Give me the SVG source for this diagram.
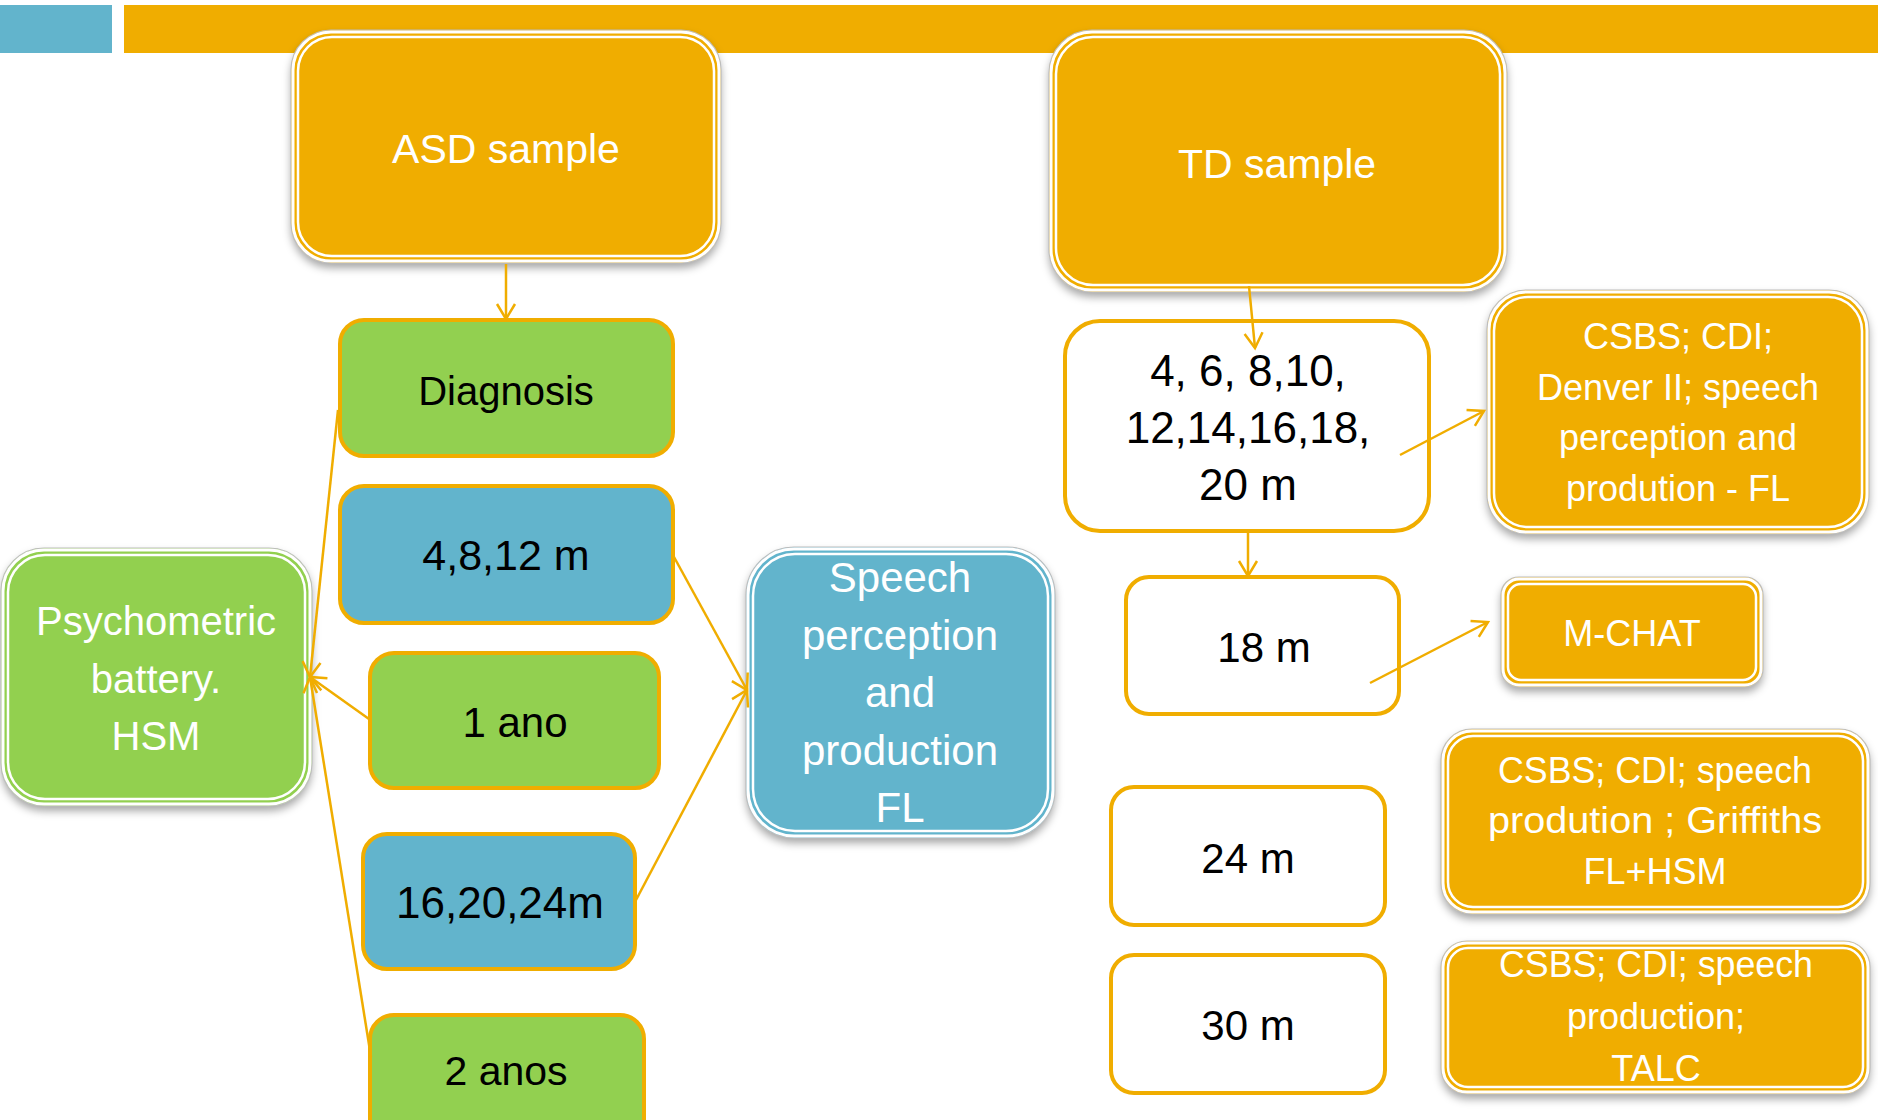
<svg xmlns="http://www.w3.org/2000/svg" width="1878" height="1120" viewBox="0 0 1878 1120">
<style>
text{font-family:"Liberation Sans",Arial,sans-serif;text-anchor:middle}
.w{fill:#fff}
.k{fill:#000}
.or{fill:#F0AD00}
.bl{fill:#62B4CC}
.gr{fill:#92D050}
.sb{stroke:#F0AD00;stroke-width:4}
.ol{fill:none;stroke:#fff;stroke-width:3}
.gy{fill:none;stroke:#bdbdbd;stroke-width:1.2}
.in{fill:none;stroke:#fff;stroke-width:2.5}
.c{fill:none;stroke:#F0AD00;stroke-width:2.5}
</style>
<defs>
<filter id="sh" x="-10%" y="-10%" width="120%" height="130%">
<feDropShadow dx="0" dy="5" stdDeviation="4" flood-color="#000" flood-opacity="0.35"/>
</filter>
<marker id="ar" markerUnits="userSpaceOnUse" markerWidth="22" markerHeight="22" refX="18" refY="11" orient="auto">
<path d="M3,2 L18,11 L3,20" fill="none" stroke="#F0AD00" stroke-width="2.5"/>
</marker>
</defs>
<rect x="0" y="5" width="112" height="48" fill="#62B4CC"/>
<rect x="124" y="5" width="1754" height="48" fill="#F0AD00"/>

<g id="asd">
<rect x="291" y="30" width="430" height="233" rx="40" class="or" filter="url(#sh)"/>
<rect x="291" y="30" width="430" height="233" rx="40" class="gy"/>
<rect x="293" y="32" width="426" height="229" rx="38" class="ol"/>
<rect x="298" y="37" width="416" height="219" rx="34" class="in"/>
<text x="506" y="163" font-size="41" class="w">ASD sample</text>
</g>
<g id="td">
<rect x="1049" y="30" width="458" height="262" rx="43" class="or" filter="url(#sh)"/>
<rect x="1049" y="30" width="458" height="262" rx="43" class="gy"/>
<rect x="1051" y="32" width="454" height="258" rx="41" class="ol"/>
<rect x="1056" y="37" width="444" height="248" rx="37" class="in"/>
<text x="1277" y="178" font-size="41" class="w">TD sample</text>
</g>
<g id="diagnosis">
<rect x="340" y="320" width="333" height="136" rx="24" class="gr sb"/>
<text x="506" y="405" font-size="40" class="k">Diagnosis</text>
</g>
<g id="m4812">
<rect x="340" y="486" width="333" height="137" rx="24" class="bl sb"/>
<text x="506" y="570" font-size="43" class="k">4,8,12 m</text>
</g>
<g id="ano1">
<rect x="370" y="653" width="289" height="135" rx="24" class="gr sb"/>
<text x="515" y="737" font-size="42" class="k">1 ano</text>
</g>
<g id="m162024">
<rect x="363" y="834" width="272" height="135" rx="24" class="bl sb"/>
<text x="500" y="918" font-size="44" class="k">16,20,24m</text>
</g>
<g id="anos2">
<rect x="370" y="1015" width="274" height="130" rx="24" class="gr sb"/>
<text x="506" y="1085" font-size="41" class="k">2 anos</text>
</g>
<g id="psych">
<rect x="1" y="548" width="311" height="258" rx="43" class="gr" filter="url(#sh)"/>
<rect x="1" y="548" width="311" height="258" rx="43" class="gy"/>
<rect x="3" y="550" width="307" height="254" rx="41" class="ol"/>
<rect x="8" y="555" width="297" height="244" rx="37" class="in"/>
<text font-size="40" class="w"><tspan x="156" y="635">Psychometric</tspan><tspan x="156" y="693">battery.</tspan><tspan x="156" y="750">HSM</tspan></text>
</g>
<g id="speech">
<rect x="746" y="547" width="309" height="291" rx="48" class="bl" filter="url(#sh)"/>
<rect x="746" y="547" width="309" height="291" rx="48" class="gy"/>
<rect x="748" y="549" width="305" height="287" rx="46" class="ol"/>
<rect x="753" y="554" width="295" height="277" rx="42" class="in"/>
<text font-size="42" class="w"><tspan x="900" y="592">Speech</tspan><tspan x="900" y="650">perception</tspan><tspan x="900" y="707">and</tspan><tspan x="900" y="765">production</tspan><tspan x="900" y="822">FL</tspan></text>
</g>
<g id="tdages">
<rect x="1065" y="321" width="364" height="210" rx="35" fill="#fff" class="sb"/>
<text font-size="44" class="k"><tspan x="1248" y="386">4, 6, 8,10,</tspan><tspan x="1248" y="443">12,14,16,18,</tspan><tspan x="1248" y="500">20 m</tspan></text>
</g>
<g id="csbs1">
<rect x="1487" y="290" width="382" height="244" rx="40" class="or" filter="url(#sh)"/>
<rect x="1487" y="290" width="382" height="244" rx="40" class="gy"/>
<rect x="1489" y="292" width="378" height="240" rx="38" class="ol"/>
<rect x="1494" y="297" width="368" height="230" rx="34" class="in"/>
<text font-size="36" class="w"><tspan x="1678" y="349">CSBS; CDI;</tspan><tspan x="1678" y="400">Denver II; speech</tspan><tspan x="1678" y="450">perception and</tspan><tspan x="1678" y="501">prodution - FL</tspan></text>
</g>
<g id="m18">
<rect x="1126" y="577" width="273" height="137" rx="23" fill="#fff" class="sb"/>
<text x="1264" y="662" font-size="42" class="k">18 m</text>
</g>
<g id="mchat">
<rect x="1501" y="577" width="262" height="110" rx="18" class="or" filter="url(#sh)"/>
<rect x="1501" y="577" width="262" height="110" rx="18" class="gy"/>
<rect x="1503" y="579" width="258" height="106" rx="16" class="ol"/>
<rect x="1508" y="584" width="248" height="96" rx="13" class="in"/>
<text x="1632" y="646" font-size="36" class="w">M-CHAT</text>
</g>
<g id="m24">
<rect x="1111" y="787" width="274" height="138" rx="23" fill="#fff" class="sb"/>
<text x="1248" y="873" font-size="42" class="k">24 m</text>
</g>
<g id="m30">
<rect x="1111" y="955" width="274" height="138" rx="23" fill="#fff" class="sb"/>
<text x="1248" y="1040" font-size="42" class="k">30 m</text>
</g>
<g id="csbs2">
<rect x="1441" y="729" width="429" height="185" rx="31" class="or" filter="url(#sh)"/>
<rect x="1441" y="729" width="429" height="185" rx="31" class="gy"/>
<rect x="1443" y="731" width="425" height="181" rx="29" class="ol"/>
<rect x="1448" y="736" width="415" height="171" rx="25" class="in"/>
<text font-size="36" class="w"><tspan x="1655" y="783" textLength="314" lengthAdjust="spacingAndGlyphs">CSBS; CDI; speech</tspan><tspan x="1655" y="833" textLength="334" lengthAdjust="spacingAndGlyphs">prodution ; Griffiths</tspan><tspan x="1655" y="884">FL+HSM</tspan></text>
</g>
<g id="csbs3">
<rect x="1441" y="941" width="429" height="153" rx="26" class="or" filter="url(#sh)"/>
<rect x="1441" y="941" width="429" height="153" rx="26" class="gy"/>
<rect x="1443" y="943" width="425" height="149" rx="24" class="ol"/>
<rect x="1448" y="948" width="415" height="139" rx="20" class="in"/>
<text font-size="36" class="w"><tspan x="1656" y="977" textLength="314" lengthAdjust="spacingAndGlyphs">CSBS; CDI; speech</tspan><tspan x="1656" y="1029">production;</tspan><tspan x="1656" y="1081">TALC</tspan></text>
</g>

<g id="connectors">
<line x1="506" y1="264" x2="506" y2="319" class="c" marker-end="url(#ar)"/>
<line x1="338" y1="410" x2="310" y2="677" class="c" marker-end="url(#ar)"/>
<line x1="369" y1="719" x2="310" y2="677" class="c" marker-end="url(#ar)"/>
<line x1="371" y1="1057" x2="310" y2="677" class="c" marker-end="url(#ar)"/>
<line x1="674" y1="557" x2="747" y2="690" class="c" marker-end="url(#ar)"/>
<line x1="636" y1="900" x2="747" y2="690" class="c" marker-end="url(#ar)"/>
<line x1="1249" y1="286" x2="1255" y2="348" class="c" marker-end="url(#ar)"/>
<line x1="1400" y1="455" x2="1484" y2="411" class="c" marker-end="url(#ar)"/>
<line x1="1248" y1="531" x2="1248" y2="576" class="c" marker-end="url(#ar)"/>
<line x1="1370" y1="683" x2="1488" y2="622" class="c" marker-end="url(#ar)"/>
</g>
</svg>
